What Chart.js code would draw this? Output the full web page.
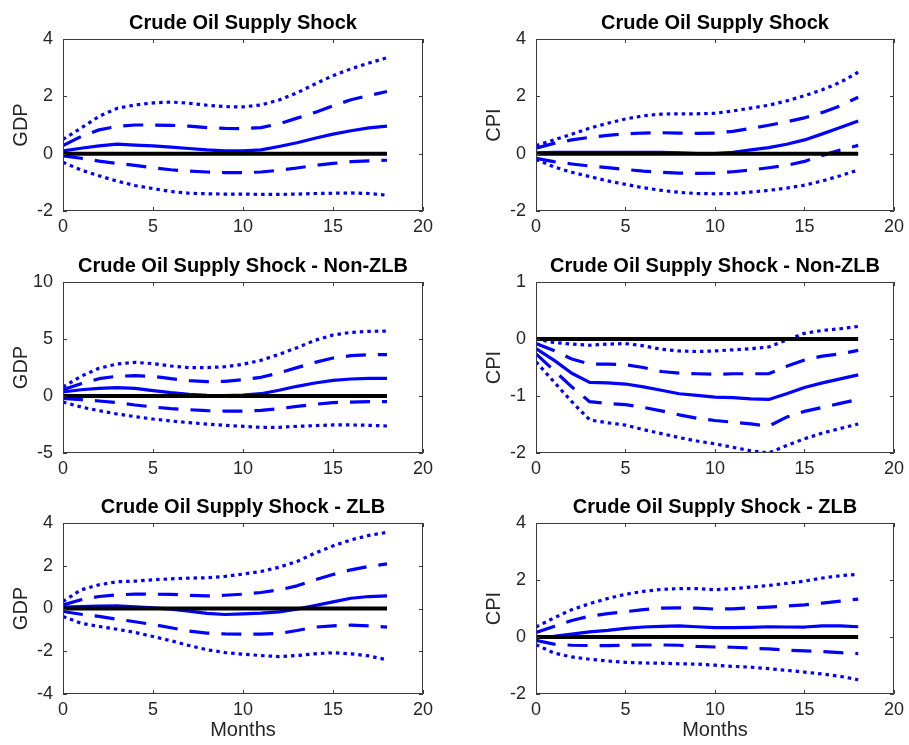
<!DOCTYPE html>
<html>
<head>
<meta charset="utf-8">
<title>Crude Oil Supply Shock</title>
<script src="https://cdn.jsdelivr.net/npm/chart.js@4.4.0/dist/chart.umd.min.js"></script>
<style>
  html, body { margin: 0; padding: 0; background: #ffffff; }
  #fig { position: relative; width: 909px; height: 745px; overflow: hidden; background: #ffffff; }
  #fig canvas { position: absolute; }
</style>
</head>
<body>
<div id="fig"></div>
<script>
// Horizon (months) and axis ticks
const months = [0, 1, 2, 3, 4, 5, 6, 7, 8, 9, 10, 11, 12, 13, 14, 15, 16, 17, 18];
const xTicks = [0, 5, 10, 15, 20];
const zeroLine = [0, 0, 0, 0, 0, 0, 0, 0, 0, 0, 0, 0, 0, 0, 0, 0, 0, 0, 0];

// GDP response, full sample
const gdpAllMedian  = [0.10, 0.19, 0.27, 0.33, 0.30, 0.27, 0.23, 0.18, 0.13, 0.10, 0.10, 0.13, 0.25, 0.38, 0.54, 0.68, 0.80, 0.90, 0.96];
const gdpAllInnerHi = [0.28, 0.60, 0.83, 0.95, 1.00, 1.00, 0.99, 0.96, 0.91, 0.88, 0.87, 0.91, 1.04, 1.24, 1.44, 1.67, 1.88, 2.03, 2.17];
const gdpAllOuterHi = [0.50, 0.89, 1.30, 1.58, 1.70, 1.77, 1.80, 1.76, 1.69, 1.64, 1.63, 1.70, 1.87, 2.12, 2.43, 2.72, 2.96, 3.16, 3.35];
const gdpAllInnerLo = [-0.08, -0.16, -0.26, -0.34, -0.41, -0.49, -0.56, -0.61, -0.64, -0.66, -0.66, -0.64, -0.58, -0.50, -0.41, -0.34, -0.28, -0.25, -0.23];
const gdpAllOuterLo = [-0.30, -0.57, -0.77, -0.96, -1.11, -1.22, -1.32, -1.38, -1.40, -1.41, -1.41, -1.42, -1.42, -1.41, -1.39, -1.38, -1.37, -1.39, -1.45];
const gdpAllTicks = [-2, 0, 2, 4];

// CPI response, full sample
const cpiAllMedian  = [0.03, 0.05, 0.05, 0.05, 0.05, 0.05, 0.05, 0.05, 0.03, 0.00, 0.00, 0.05, 0.13, 0.21, 0.33, 0.48, 0.69, 0.91, 1.14];
const cpiAllInnerHi = [0.19, 0.36, 0.48, 0.57, 0.64, 0.69, 0.72, 0.73, 0.72, 0.71, 0.72, 0.78, 0.88, 0.99, 1.11, 1.25, 1.44, 1.67, 1.97];
const cpiAllOuterHi = [0.28, 0.48, 0.68, 0.89, 1.06, 1.21, 1.32, 1.38, 1.39, 1.39, 1.41, 1.49, 1.59, 1.69, 1.84, 2.02, 2.23, 2.49, 2.84];
const cpiAllInnerLo = [-0.16, -0.28, -0.36, -0.43, -0.49, -0.55, -0.61, -0.65, -0.68, -0.69, -0.68, -0.63, -0.57, -0.49, -0.41, -0.27, -0.06, 0.13, 0.29];
const cpiAllOuterLo = [-0.20, -0.46, -0.65, -0.80, -0.95, -1.07, -1.19, -1.28, -1.35, -1.39, -1.40, -1.39, -1.34, -1.28, -1.20, -1.10, -0.95, -0.77, -0.57];
const cpiAllTicks = [-2, 0, 2, 4];

// GDP response, away from the zero lower bound
const gdpNzlbMedian  = [0.35, 0.55, 0.67, 0.73, 0.67, 0.47, 0.29, 0.15, 0.06, 0.03, 0.09, 0.20, 0.50, 0.85, 1.14, 1.37, 1.49, 1.55, 1.55];
const gdpNzlbInnerHi = [0.55, 1.08, 1.52, 1.73, 1.78, 1.73, 1.52, 1.35, 1.26, 1.29, 1.43, 1.64, 2.02, 2.49, 2.95, 3.33, 3.54, 3.63, 3.63];
const gdpNzlbOuterHi = [0.79, 1.73, 2.43, 2.81, 2.95, 2.84, 2.63, 2.49, 2.49, 2.57, 2.78, 3.13, 3.65, 4.24, 4.88, 5.35, 5.58, 5.67, 5.70];
const gdpNzlbInnerLo = [-0.20, -0.32, -0.44, -0.58, -0.79, -0.96, -1.11, -1.20, -1.29, -1.32, -1.32, -1.26, -1.11, -0.91, -0.73, -0.58, -0.53, -0.50, -0.50];
const gdpNzlbOuterLo = [-0.53, -0.96, -1.29, -1.58, -1.81, -2.02, -2.19, -2.34, -2.46, -2.57, -2.66, -2.75, -2.75, -2.66, -2.60, -2.54, -2.54, -2.57, -2.63];
const gdpNzlbTicks = [-5, 0, 5, 10];

// CPI response, away from the zero lower bound
const cpiNzlbMedian  = [-0.17, -0.37, -0.60, -0.76, -0.77, -0.79, -0.84, -0.90, -0.96, -0.99, -1.02, -1.03, -1.05, -1.06, -0.96, -0.85, -0.77, -0.70, -0.63];
const cpiNzlbInnerHi = [-0.08, -0.20, -0.35, -0.44, -0.44, -0.45, -0.50, -0.57, -0.60, -0.61, -0.62, -0.61, -0.61, -0.61, -0.48, -0.37, -0.30, -0.26, -0.20];
const cpiNzlbOuterHi = [0.00, -0.06, -0.09, -0.11, -0.09, -0.08, -0.12, -0.18, -0.21, -0.22, -0.21, -0.19, -0.17, -0.14, -0.02, 0.10, 0.15, 0.18, 0.22];
const cpiNzlbInnerLo = [-0.26, -0.55, -0.84, -1.10, -1.13, -1.15, -1.20, -1.26, -1.33, -1.39, -1.43, -1.46, -1.49, -1.53, -1.37, -1.27, -1.20, -1.13, -1.06];
const cpiNzlbOuterLo = [-0.40, -0.75, -1.10, -1.42, -1.47, -1.51, -1.59, -1.66, -1.73, -1.79, -1.84, -1.90, -1.96, -2.00, -1.87, -1.75, -1.65, -1.57, -1.49];
const cpiNzlbTicks = [-2, -1, 0, 1];

// GDP response at the zero lower bound
const gdpZlbMedian  = [0.06, 0.09, 0.11, 0.12, 0.08, 0.03, -0.03, -0.12, -0.23, -0.28, -0.25, -0.22, -0.16, -0.03, 0.14, 0.31, 0.48, 0.56, 0.59];
const gdpZlbInnerHi = [0.17, 0.41, 0.56, 0.64, 0.67, 0.67, 0.66, 0.62, 0.59, 0.62, 0.67, 0.75, 0.87, 1.06, 1.34, 1.59, 1.81, 1.97, 2.09];
const gdpZlbOuterHi = [0.33, 0.87, 1.11, 1.25, 1.28, 1.34, 1.39, 1.42, 1.44, 1.50, 1.61, 1.73, 1.93, 2.20, 2.59, 2.93, 3.21, 3.42, 3.56];
const gdpZlbInnerLo = [-0.14, -0.27, -0.37, -0.50, -0.62, -0.75, -0.90, -1.06, -1.15, -1.19, -1.20, -1.20, -1.17, -1.03, -0.87, -0.81, -0.78, -0.81, -0.87];
const gdpZlbOuterLo = [-0.37, -0.69, -0.84, -0.97, -1.12, -1.31, -1.51, -1.73, -1.93, -2.06, -2.14, -2.20, -2.25, -2.20, -2.12, -2.07, -2.12, -2.22, -2.40];
const gdpZlbTicks = [-4, -2, 0, 2, 4];

// CPI response at the zero lower bound
const cpiZlbMedian  = [0.01, 0.02, 0.10, 0.18, 0.23, 0.30, 0.35, 0.37, 0.39, 0.36, 0.33, 0.33, 0.34, 0.36, 0.35, 0.35, 0.39, 0.39, 0.36];
const cpiZlbInnerHi = [0.16, 0.37, 0.58, 0.73, 0.82, 0.89, 0.96, 1.01, 1.02, 1.01, 0.98, 0.99, 1.02, 1.05, 1.09, 1.13, 1.19, 1.26, 1.33];
const cpiZlbOuterHi = [0.35, 0.67, 0.96, 1.17, 1.35, 1.50, 1.60, 1.67, 1.70, 1.70, 1.66, 1.70, 1.75, 1.81, 1.88, 1.96, 2.07, 2.15, 2.20];
const cpiZlbInnerLo = [-0.12, -0.25, -0.29, -0.30, -0.30, -0.29, -0.28, -0.28, -0.29, -0.33, -0.35, -0.36, -0.39, -0.42, -0.46, -0.49, -0.51, -0.55, -0.58];
const cpiZlbOuterLo = [-0.27, -0.56, -0.70, -0.78, -0.84, -0.89, -0.91, -0.92, -0.94, -0.95, -0.99, -1.03, -1.06, -1.11, -1.17, -1.23, -1.30, -1.38, -1.50];
const cpiZlbTicks = [-2, 0, 2, 4];

const FONT = "'Liberation Sans', Arial, Helvetica, sans-serif";
const AXIS_COLOR = '#262626';
const BLUE = '#0000ff';

// Grid of panels: position of each canvas and what it shows
const panels = [
  { left: 0,   top: 0,   width: 455, plotH: 172, xh: 40, yw: 63, padR: 32, ytPad: 9,
    title: 'Crude Oil Supply Shock', ylabel: 'GDP', ticks: gdpAllTicks,
    series: [gdpAllMedian, gdpAllInnerHi, gdpAllInnerLo, gdpAllOuterHi, gdpAllOuterLo] },
  { left: 455, top: 0,   width: 454, plotH: 172, xh: 40, yw: 81, padR: 12, ytPad: 27,
    title: 'Crude Oil Supply Shock', ylabel: 'CPI', ticks: cpiAllTicks,
    series: [cpiAllMedian, cpiAllInnerHi, cpiAllInnerLo, cpiAllOuterHi, cpiAllOuterLo] },
  { left: 0,   top: 243, width: 455, plotH: 171, xh: 40, yw: 63, padR: 32, ytPad: 9,
    title: 'Crude Oil Supply Shock - Non-ZLB', ylabel: 'GDP', ticks: gdpNzlbTicks,
    series: [gdpNzlbMedian, gdpNzlbInnerHi, gdpNzlbInnerLo, gdpNzlbOuterHi, gdpNzlbOuterLo] },
  { left: 455, top: 243, width: 454, plotH: 171, xh: 40, yw: 81, padR: 12, ytPad: 27,
    title: 'Crude Oil Supply Shock - Non-ZLB', ylabel: 'CPI', ticks: cpiNzlbTicks,
    series: [cpiNzlbMedian, cpiNzlbInnerHi, cpiNzlbInnerLo, cpiNzlbOuterHi, cpiNzlbOuterLo] },
  { left: 0,   top: 484, width: 455, plotH: 171, xh: 51, yw: 63, padR: 32, ytPad: 9, xlabel: 'Months',
    title: 'Crude Oil Supply Shock - ZLB', ylabel: 'GDP', ticks: gdpZlbTicks,
    series: [gdpZlbMedian, gdpZlbInnerHi, gdpZlbInnerLo, gdpZlbOuterHi, gdpZlbOuterLo] },
  { left: 455, top: 484, width: 454, plotH: 171, xh: 51, yw: 81, padR: 12, ytPad: 27, xlabel: 'Months',
    title: 'Crude Oil Supply Shock - ZLB', ylabel: 'CPI', ticks: cpiZlbTicks,
    series: [cpiZlbMedian, cpiZlbInnerHi, cpiZlbInnerLo, cpiZlbOuterHi, cpiZlbOuterLo] }
];

const TITLE_BLOCK = 39; // title band above each plot box

// Axes box with short inward tick marks on all four sides
const boxTicks = {
  id: 'boxTicks',
  afterDatasetsDraw(chart) {
    const { ctx, chartArea: a, scales: { x, y } } = chart;
    const L = 4;
    ctx.save();
    ctx.strokeStyle = '#3a3a3a';
    ctx.lineWidth = 1;
    ctx.beginPath();
    ctx.rect(a.left + 0.5, a.top + 0.5, a.right - a.left - 1, a.bottom - a.top - 1);
    x.ticks.forEach(t => {
      const px = Math.round(x.getPixelForValue(t.value)) + 0.5;
      ctx.moveTo(px, a.bottom); ctx.lineTo(px, a.bottom - L);
      ctx.moveTo(px, a.top); ctx.lineTo(px, a.top + L);
    });
    y.ticks.forEach(t => {
      const py = Math.round(y.getPixelForValue(t.value)) + 0.5;
      ctx.moveTo(a.left, py); ctx.lineTo(a.left + L, py);
      ctx.moveTo(a.right, py); ctx.lineTo(a.right - L, py);
    });
    ctx.stroke();
    ctx.restore();
  }
};

const toPoints = vals => months.map((m, i) => ({ x: m, y: vals[i] }));

const fig = document.getElementById('fig');

panels.forEach(p => {
  const canvas = document.createElement('canvas');
  const height = TITLE_BLOCK + p.plotH + p.xh;
  canvas.width = p.width;
  canvas.height = height;
  canvas.style.left = p.left + 'px';
  canvas.style.top = p.top + 'px';
  canvas.style.width = p.width + 'px';
  canvas.style.height = height + 'px';
  fig.appendChild(canvas);

  const [median, innerHi, innerLo, outerHi, outerLo] = p.series;
  const line = (vals, dash, order, color, width) => ({
    data: toPoints(vals),
    borderColor: color,
    borderWidth: width,
    borderDash: dash,
    order: order,
    pointRadius: 0,
    tension: 0,
    fill: false
  });

  new Chart(canvas, {
    type: 'line',
    data: {
      datasets: [
        line(zeroLine, [], 0, '#000000', 4),
        line(median, [], 1, BLUE, 3.2),
        line(innerHi, [20, 12], 2, BLUE, 3.2),
        line(innerLo, [20, 12], 2, BLUE, 3.2),
        line(outerHi, [3.5, 4], 3, BLUE, 3.2),
        line(outerLo, [3.5, 4], 3, BLUE, 3.2)
      ]
    },
    options: {
      responsive: false,
      animation: false,
      devicePixelRatio: 1,
      layout: { padding: { top: 0, left: 0, right: p.padR, bottom: 0 } },
      elements: { line: { borderCapStyle: 'butt', borderJoinStyle: 'round' } },
      plugins: {
        legend: { display: false },
        tooltip: { enabled: false },
        title: {
          display: true,
          text: p.title,
          fullSize: false,
          color: '#000000',
          font: { family: FONT, size: 20, weight: 'bold', lineHeight: 1.2 },
          padding: { top: 11, bottom: 4 }
        }
      },
      scales: {
        x: {
          type: 'linear',
          min: xTicks[0],
          max: xTicks[xTicks.length - 1],
          afterBuildTicks: s => { s.ticks = xTicks.map(v => ({ value: v })); },
          ticks: { color: AXIS_COLOR, font: { family: FONT, size: 18 }, padding: 5, maxRotation: 0 },
          grid: { display: false, drawTicks: false },
          border: { display: false },
          title: p.xlabel ? {
            display: true, text: p.xlabel, color: AXIS_COLOR,
            font: { family: FONT, size: 20, lineHeight: 1.2 }, padding: { top: 0, bottom: 3 }
          } : { display: false },
          afterFit: s => { s.height = p.xh; }
        },
        y: {
          type: 'linear',
          min: p.ticks[0],
          max: p.ticks[p.ticks.length - 1],
          afterBuildTicks: s => { s.ticks = p.ticks.map(v => ({ value: v })); },
          ticks: { color: AXIS_COLOR, font: { family: FONT, size: 18 }, padding: 10 },
          grid: { display: false, drawTicks: false },
          border: { display: false },
          title: {
            display: true, text: p.ylabel, color: AXIS_COLOR,
            font: { family: FONT, size: 20, lineHeight: 1.2 }, padding: { top: p.ytPad, bottom: 0 }
          },
          afterFit: s => { s.width = p.yw; }
        }
      }
    },
    plugins: [boxTicks]
  });
});
</script>
</body>
</html>
